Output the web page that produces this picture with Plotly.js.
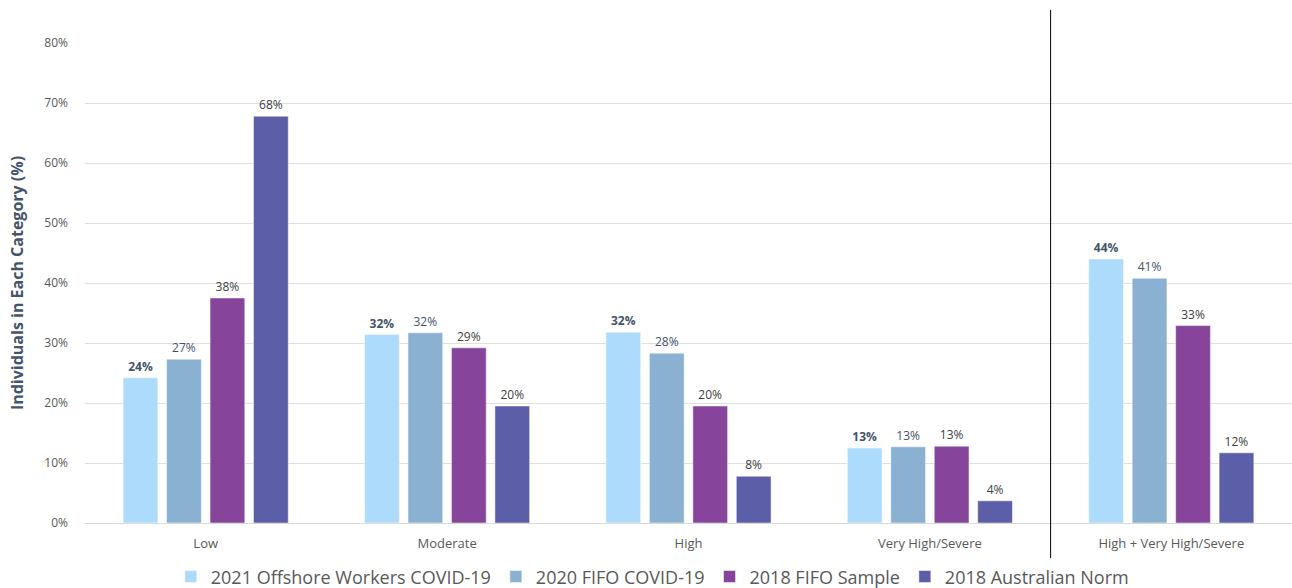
<!DOCTYPE html>
<html><head><meta charset="utf-8">
<script src="https://cdn.plot.ly/plotly-3.0.1.min.js"></script>
<style>body{margin:0;background:#fff}#c{width:1292px;height:588px}</style>
</head><body><div id="c"></div>
<script>
const categories = ["Low", "Moderate", "High", "Very High/Severe", "High + Very High/Severe"];
const seriesNames = ["2021 Offshore Workers COVID-19", "2020 FIFO COVID-19", "2018 FIFO Sample", "2018 Australian Norm"];
const s2021 = [24.2, 31.4, 31.8, 12.5, 44.0];
const s2020 = [27.3, 31.7, 28.3, 12.7, 40.8];
const s2018 = [37.5, 29.2, 19.5, 12.8, 32.9];
const sNorm = [67.8, 19.5, 7.8, 3.7, 11.7];
const labels2021 = ["24%", "32%", "32%", "13%", "44%"];
const labels2020 = ["27%", "32%", "28%", "13%", "41%"];
const labels2018 = ["38%", "29%", "20%", "13%", "33%"];
const labelsNorm = ["68%", "20%", "8%", "4%", "12%"];
const colors = ["#ADDBFC", "#8BB1D2", "#86459A", "#5D5EA8"];
const yTicks = [0,10,20,30,40,50,60,70,80];
const yTickText = yTicks.map(v => v + "%");

const vals = [s2021, s2020, s2018, sNorm];
const labs = [labels2021, labels2020, labels2018, labelsNorm];
const traces = vals.map((v, i) => ({
  type: "bar", x: categories, y: v, name: seriesNames[i],
  marker: {color: colors[i], line: {color: "#ffffff", width: 0.5}},
  text: labs[i].map(t => i === 0 ? "<b>" + t + "</b>" : t),
  textposition: "outside", cliponaxis: false,
  textfont: {family: "Open Sans, sans-serif", size: 12, color: i < 2 ? "#44546A" : "#404040"},
  hoverinfo: "skip"
}));

const layout = {
  width: 1292, height: 588,
  margin: {l: 85, r: 0, t: 43, b: 65},
  paper_bgcolor: "#fff", plot_bgcolor: "#fff",
  barmode: "group", bargap: 0.28, bargroupgap: 0.2,
  font: {family: "Open Sans, sans-serif", color: "#595959"},
  xaxis: {
    tickfont: {size: 13, color: "#595959"},
    showline: true, linecolor: "#d9d9d9", linewidth: 1,
    ticks: "", showgrid: false, ticklabelstandoff: 8, automargin: false
  },
  yaxis: {
    range: [0, 80], tickvals: yTicks, ticktext: yTickText,
    tickfont: {size: 12, color: "#595959"},
    gridcolor: "#e0e0e0", gridwidth: 1, zeroline: false,
    ticklabelstandoff: 16, automargin: false,
    title: {text: "<b>Individuals in Each Category (%)</b>", font: {size: 16, color: "#44546A"}, standoff: 16}
  },
  legend: {
    orientation: "h", x: 0.47, xanchor: "center",
    yref: "container", y: 0.019, yanchor: "middle",
    font: {size: 18, color: "#595959"}, traceorder: "normal"
  },
  shapes: [{
    type: "line", xref: "x", yref: "paper", x0: 3.5, x1: 3.5, y0: -0.081, y1: 1.069,
    line: {color: "#000000", width: 1}
  }]
};
Plotly.newPlot("c", traces, layout, {displayModeBar: false, staticPlot: true});
</script></body></html>
